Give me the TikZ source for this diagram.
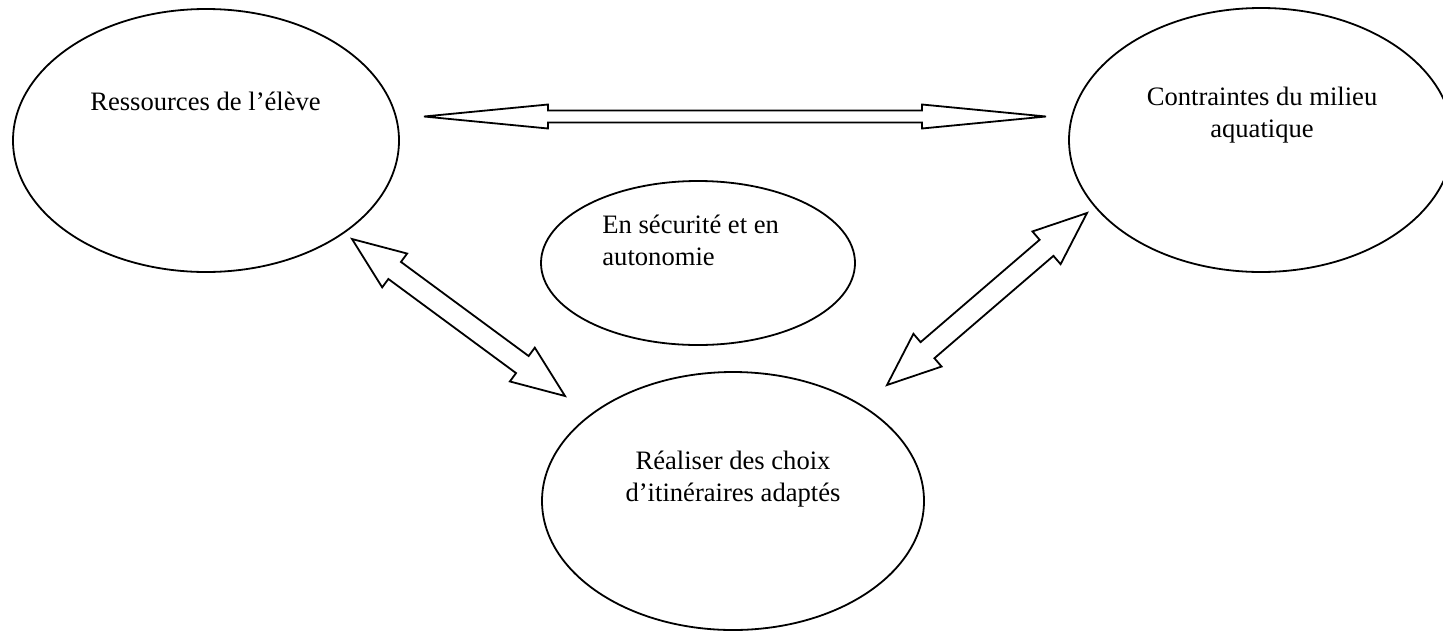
\documentclass[tikz,border=0pt]{standalone}
\usepackage{fontspec}
\setmainfont{Liberation Serif}
\usetikzlibrary{shapes.geometric,calc}
\tikzset{
  bubble/.style={ellipse, draw=black, line width=0.9pt, inner sep=0pt},
  lbl/.style={font=\fontsize{13.3}{16}\selectfont, inner sep=0pt},
  arrowline/.style={draw=black, fill=white, line width=0.9pt},
}
\newcommand\dblarr[5]{%
  \draw[arrowline] (#1)
   -- ($(#1)!#3!(#2)!#4!90:(#2)$)
   -- ($(#1)!#3!(#2)!#5!90:(#2)$)
   -- ($(#2)!#3!(#1)!#5!-90:(#1)$)
   -- ($(#2)!#3!(#1)!#4!-90:(#1)$)
   -- (#2)
   -- ($(#2)!#3!(#1)!#4!90:(#1)$)
   -- ($(#2)!#3!(#1)!#5!90:(#1)$)
   -- ($(#1)!#3!(#2)!#5!-90:(#2)$)
   -- ($(#1)!#3!(#2)!#4!-90:(#2)$)
   -- cycle;}
\begin{document}
\begin{tikzpicture}[x=0.5pt,y=-0.5pt]
\useasboundingbox (0,0) rectangle (1443,632);
% ellipses
\node[bubble, minimum width=193pt, minimum height=131.5pt] (res) at (206,140.5) {};
\node[bubble, minimum width=192pt, minimum height=132pt] (con) at (1261,140) {};
\node[bubble, minimum width=157pt, minimum height=82pt] (sec) at (698,263) {};
\node[bubble, minimum width=191pt, minimum height=129pt] (rea) at (733,501) {};
% texts (anchor base = baseline of the last line)
\node[lbl, anchor=base] (tres) at (205.5,110) {Ressources de l’élève};
\node[lbl, anchor=base, align=center] (tcon) at (1262,137.5) {Contraintes du milieu\\aquatique};
\node[lbl, anchor=base west, align=left] (tsec) at (602,265) {En sécurité et en\\autonomie};
\node[lbl, anchor=base, align=center] (trea) at (733,501) {Réaliser des choix\\d’itinéraires adaptés};
% arrow end points
\coordinate (h1) at (424,116.5);
\coordinate (h2) at (1046,116.5);
\coordinate (l1) at (352,239);
\coordinate (l2) at (565,396);
\coordinate (r1) at (1087,213);
\coordinate (r2) at (887,385);
\dblarr{h1}{h2}{62pt}{6pt}{3pt}
\dblarr{l1}{l2}{26.5pt}{10.5pt}{5.3pt}
\dblarr{r1}{r2}{26.7pt}{10.8pt}{5.3pt}
\end{tikzpicture}
\end{document}
